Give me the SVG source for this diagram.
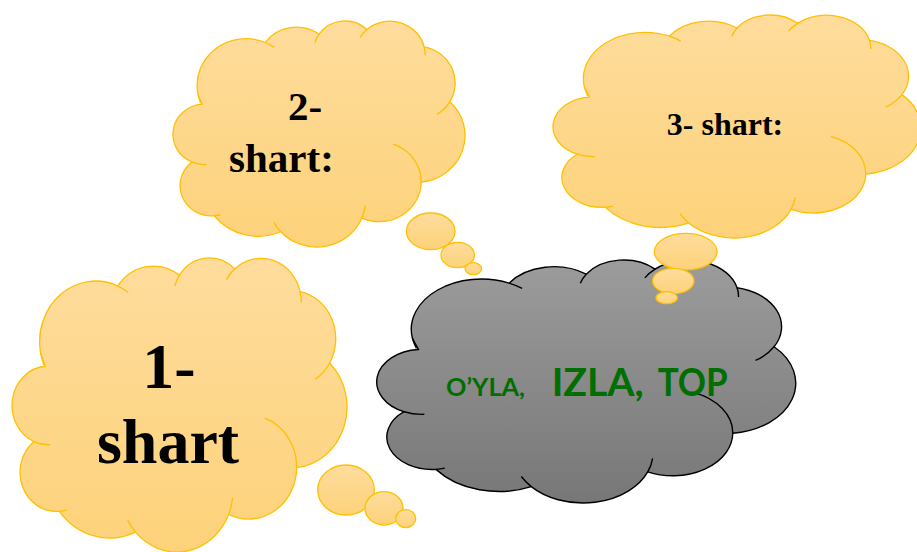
<svg xmlns="http://www.w3.org/2000/svg" xmlns:xlink="http://www.w3.org/1999/xlink" width="917" height="552" viewBox="0 0 917 552">
<style>
.shape{vector-effect:non-scaling-stroke;}
.yel{fill:url(#gy);stroke:#FFC000;stroke-width:1.3;}
.gry{fill:url(#gg);stroke:#000;stroke-width:1.4;}
.ycr{fill:none;stroke:#FFC000;stroke-width:1.3;}
.gcr{fill:none;stroke:#000;stroke-width:1.4;}
.bub{fill:url(#gy);stroke:#FFC000;stroke-width:1.3;}
.lbl{font-family:"Liberation Serif","Times New Roman",serif;font-weight:bold;fill:#000;}
.grn{font-family:Lato,"Liberation Sans",Arial,sans-serif;font-weight:bold;fill:#006E00;}
</style>
<defs>
<linearGradient id="gy" x1="0" y1="0" x2="0" y2="1">
<stop offset="0" stop-color="#FEDC9C"/>
<stop offset="1" stop-color="#FDD27A"/>
</linearGradient>
<linearGradient id="gg" x1="0" y1="0" x2="0" y2="1">
<stop offset="0" stop-color="#9C9C9C"/>
<stop offset="1" stop-color="#777777"/>
</linearGradient>
<path id="cloud" class="shape" d="M3900 14370 A6753 9190 0 0 1 13210 4256 A5333 7267 0 0 1 20654 2626 A4365 5945 0 0 1 27292 1685 A4857 6595 0 0 1 35195 5096 A5333 7273 0 0 1 38755 15900 A6775 9220 0 0 1 34779 31732 A5785 7867 0 0 1 26581 38795 A6752 9215 0 0 1 15353 41487 A7720 10543 0 0 1 6163 38335 A4360 5918 0 0 1 3091 27789 A4345 5945 0 0 1 4474 16395 Z"/>
<path id="crease" class="shape" d="M5047 28258 A4345 5945 0 0 1 3090 27789 M7017 38117 A4360 5918 0 0 1 6163 38335 M15353 41487 A6752 9215 0 0 1 14395 39644 M27050 36312 A6752 9215 0 0 1 26581 38795 M30945 24240 A5785 7867 0 0 1 34779 31732 M38755 15900 A5333 7273 0 0 1 36972 18401 M35195 5096 A4857 6595 0 0 1 35333 6791 M26305 3286 A4857 6595 0 0 1 27292 1685 M20079 4278 A4365 5945 0 0 1 20654 2626 M13210 4256 A6753 9190 0 0 1 14471 5225 M4294 16192 A6753 9190 0 0 1 3900 14370"/>
</defs>
<rect width="917" height="552" fill="#fff"/>

<g id="node-center">
<use xlink:href="#cloud" class="gry" transform="matrix(0.010374 0 0 0.0054645 371.98 259.88)"/>
<use xlink:href="#crease" class="gcr" transform="matrix(0.010374 0 0 0.0054645 371.98 259.88)"/>
<text class="grn" x="446" y="396" font-size="25" textLength="79" lengthAdjust="spacingAndGlyphs">O’YLA,</text>
<text class="grn" x="551.7" y="396" font-size="38" textLength="92" lengthAdjust="spacingAndGlyphs">IZLA,</text>
<text class="grn" x="657.7" y="396" font-size="38" textLength="70" lengthAdjust="spacingAndGlyphs">TOP</text>
</g>

<g id="node-shart1">
<use xlink:href="#cloud" class="yel" transform="matrix(0.0082939 0 0 0.0066114 8.226 257.855)"/>
<use xlink:href="#crease" class="ycr" transform="matrix(0.0082939 0 0 0.0066114 8.226 257.855)"/>
<ellipse class="bub" cx="346" cy="490" rx="28.3" ry="25"/>
<ellipse class="bub" cx="384" cy="508.3" rx="19" ry="16.7"/>
<ellipse class="bub" cx="405.7" cy="518.7" rx="10" ry="9"/>
<text class="lbl" font-size="64" text-anchor="middle"><tspan x="169" y="388">1-</tspan><tspan x="168" y="463">shart</tspan></text>
</g>

<g id="node-shart2">
<use xlink:href="#cloud" class="yel" transform="matrix(0.0072293 0 0 0.0050822 169.71 20.89)"/>
<use xlink:href="#crease" class="ycr" transform="matrix(0.0072293 0 0 0.0050822 169.71 20.89)"/>
<ellipse class="bub" cx="430.7" cy="231.3" rx="24.3" ry="18.3"/>
<ellipse class="bub" cx="457.7" cy="255" rx="16.7" ry="12.7"/>
<ellipse class="bub" cx="473.3" cy="268.7" rx="8.3" ry="6"/>
<text class="lbl" font-size="41" text-anchor="middle"><tspan x="305" y="120">2-</tspan><tspan x="281.5" y="171.7">shart:</tspan></text>
</g>

<g id="node-shart3">
<use xlink:href="#cloud" class="yel" transform="matrix(0.0091109 0 0 0.0050147 548.855 14.89)"/>
<use xlink:href="#crease" class="ycr" transform="matrix(0.0091109 0 0 0.0050147 548.855 14.89)"/>
<ellipse class="bub" cx="685.7" cy="251.7" rx="31.3" ry="18.3"/>
<ellipse class="bub" cx="673.3" cy="281" rx="20.7" ry="12.7"/>
<ellipse class="bub" cx="666.7" cy="297.7" rx="10.7" ry="6"/>
<text class="lbl" font-size="32" text-anchor="middle" x="725" y="135">3- shart:</text>
</g>

<g id="connectors"></g>
</svg>
